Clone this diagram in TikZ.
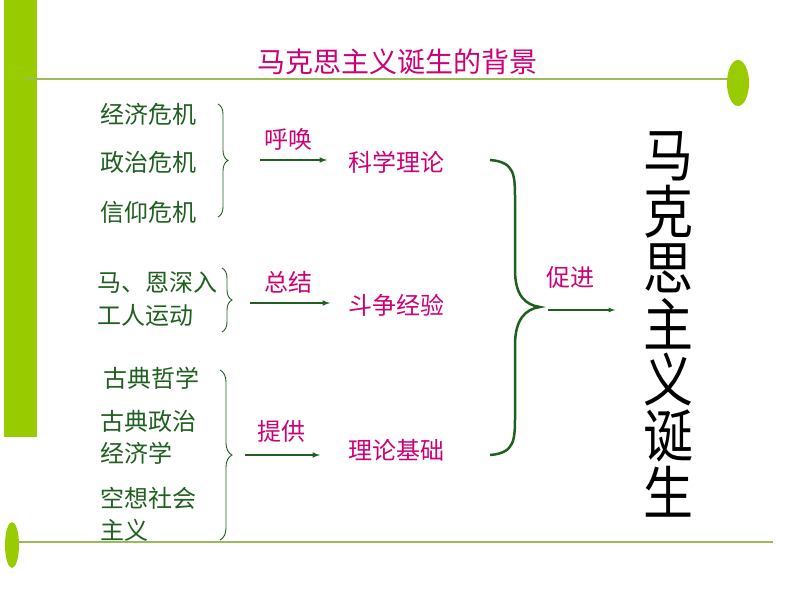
\documentclass[tikz,border=0pt]{standalone}
\usepackage{fontspec}
\setmainfont{Noto Sans CJK SC}
\usetikzlibrary{decorations.pathreplacing}
\definecolor{lime}{HTML}{99CC00}
\definecolor{olive}{HTML}{9BBB59}
\definecolor{mag}{HTML}{CC0077}
\definecolor{dg}{HTML}{1F5F1F}
\tikzset{
 lt/.style={text=dg,font=\fontsize{24}{28}\selectfont,inner sep=0pt,anchor=west},
 mt/.style={text=mag,font=\fontsize{24}{28}\selectfont,inner sep=0pt},
 arr/.style={draw=dg,line width=1.5pt,-latex},
 br/.style={draw=dg,line width=0.9pt,decorate,decoration={brace,amplitude=10pt}},
 bigc/.style={inner sep=0pt,font=\fontsize{50}{50}\selectfont,yscale=1.15,transform shape},
}
\begin{document}
\begin{tikzpicture}[x=1pt,y=-1pt]
\useasboundingbox (0,0) rectangle (794,596);
\fill[lime] (4,0) rectangle (37,437);
\draw[olive,line width=1.2pt] (24,79) -- (738,79);
\fill[lime] (738,83) ellipse (11 and 23);
\draw[olive,line width=1.2pt] (15,542) -- (773,542);
\fill[lime] (12,545) ellipse (7 and 23);
\node[mt,font=\fontsize{28}{32}\selectfont] (title) at (397,62) {马克思主义诞生的背景};
% group 1
\node[lt] (a1) at (100,114) {经济危机};
\node[lt] (a2) at (100,162) {政治危机};
\node[lt] (a3) at (100,212) {信仰危机};
\draw[br] (218,104) -- (218,217);
\coordinate (s1) at (260,160); \coordinate (e1) at (327,160);
\draw[arr] (s1) -- (e1);
\node[mt] (l1) at (288,139) {呼唤};
\node[mt] (r1) at (396,162) {科学理论};
% group 2
\node[lt] (b1) at (97,283) {马、恩深入};
\node[lt] (b2) at (97,315) {工人运动};
\draw[br] (222,268) -- (222,332);
\coordinate (s2) at (250,303); \coordinate (e2) at (330,303);
\draw[arr] (s2) -- (e2);
\node[mt] (l2) at (288,282) {总结};
\node[mt] (r2) at (396,305) {斗争经验};
% group 3
\node[lt] (c1) at (103,378) {古典哲学};
\node[lt] (c2) at (100,421) {古典政治};
\node[lt] (c3) at (100,453) {经济学};
\node[lt] (c4) at (100,498) {空想社会};
\node[lt] (c5) at (100,530) {主义};
\draw[br,decoration={brace,amplitude=12pt}] (220,370) -- (220,540);
\coordinate (s3) at (245,455); \coordinate (e3) at (320,455);
\draw[arr] (s3) -- (e3);
\node[mt] (l3) at (281,431) {提供};
\node[mt] (r3) at (396,450) {理论基础};
% big brace
\draw[dg,line width=2.5pt] (490,160) .. controls (515,162) and (515,175) .. (515,200)
  -- (515,270) .. controls (515,295) and (525,305) .. (540,307)
  .. controls (525,309) and (515,320) .. (515,345)
  -- (515,415) .. controls (515,440) and (515,453) .. (490,455);
\node[mt] (l4) at (570,277) {促进};
\coordinate (s4) at (548,310); \coordinate (e4) at (615,310);
\draw[arr,line width=1.2pt] (s4) -- (e4);
\node[bigc] (g1) at (668,156) {马};
\node[bigc] (g2) at (668,212) {克};
\node[bigc] (g3) at (668,268) {思};
\node[bigc] (g4) at (668,324) {主};
\node[bigc] (g5) at (668,380) {义};
\node[bigc] (g6) at (668,436) {诞};
\node[bigc] (g7) at (668,492) {生};
\end{tikzpicture}
\end{document}
